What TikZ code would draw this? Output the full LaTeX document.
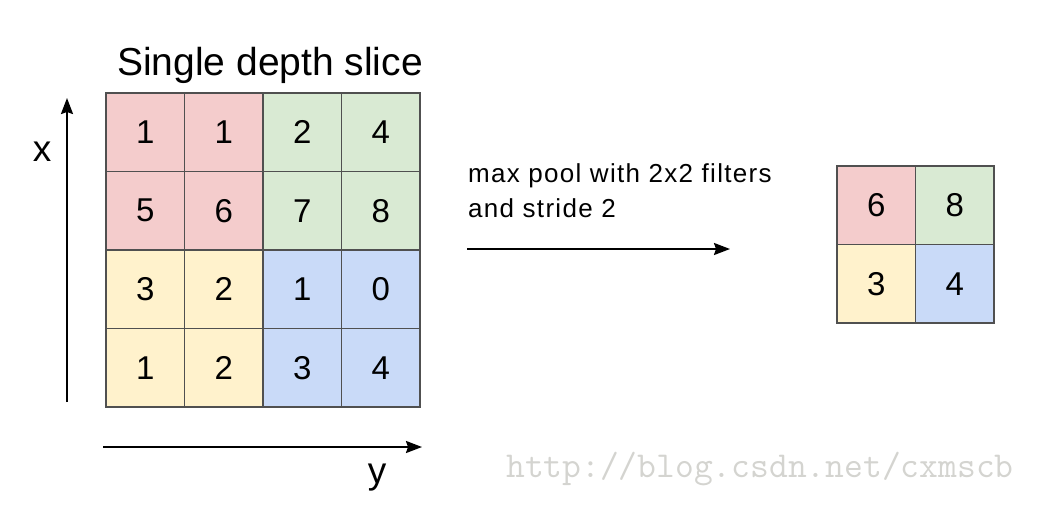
\documentclass[tikz,border=0pt]{standalone}
\usepackage{fontspec}
\setmainfont{Liberation Sans}
\usetikzlibrary{arrows.meta, positioning}
\definecolor{poolRed}{RGB}{244,204,204}
\definecolor{poolGreen}{RGB}{217,234,211}
\definecolor{poolYellow}{RGB}{255,242,204}
\definecolor{poolBlue}{RGB}{201,218,248}
\definecolor{gridGray}{RGB}{80,80,80}
\definecolor{markGray}{RGB}{212,212,208}

\begin{document}
\begin{tikzpicture}[
    x=1pt, y=-1pt,
    cell/.style={rectangle, draw=gridGray, line width=1.6pt, minimum width=78.5pt, minimum height=78.5pt, inner sep=0pt, outer sep=0pt, font=\fontsize{33}{39}\selectfont},
    axislabel/.style={font=\fontsize{37}{44}\selectfont, anchor=base, inner sep=0pt},
    arrow/.style={-{Stealth[length=16pt, width=12pt, inset=2pt]}, line width=2pt}
]
\useasboundingbox (0,0) rectangle (1054,509);

% input slice
\node[cell, fill=poolRed] (c11) at (145.25,132.25) {1};
\node[cell, fill=poolRed, right=0pt of c11] (c12) {1};
\node[cell, fill=poolGreen, right=0pt of c12] (c13) {2};
\node[cell, fill=poolGreen, right=0pt of c13] (c14) {4};
\node[cell, fill=poolRed, below=0pt of c11] (c21) {5};
\node[cell, fill=poolRed, right=0pt of c21] (c22) {6};
\node[cell, fill=poolGreen, right=0pt of c22] (c23) {7};
\node[cell, fill=poolGreen, right=0pt of c23] (c24) {8};
\node[cell, fill=poolYellow, below=0pt of c21] (c31) {3};
\node[cell, fill=poolYellow, right=0pt of c31] (c32) {2};
\node[cell, fill=poolBlue, right=0pt of c32] (c33) {1};
\node[cell, fill=poolBlue, right=0pt of c33] (c34) {0};
\node[cell, fill=poolYellow, below=0pt of c31] (c41) {1};
\node[cell, fill=poolYellow, right=0pt of c41] (c42) {2};
\node[cell, fill=poolBlue, right=0pt of c42] (c43) {3};
\node[cell, fill=poolBlue, right=0pt of c43] (c44) {4};

\node[font=\fontsize{39}{47}\selectfont, anchor=base, inner sep=0pt] (title) at (270,75) {Single depth slice};

% axes
\coordinate (xfrom) at (67,402);
\coordinate (xto) at (67,98);
\coordinate (yfrom) at (103,447);
\coordinate (yto) at (422,447);
\draw[arrow] (xfrom) -- (xto);
\draw[arrow] (yfrom) -- (yto);
\node[axislabel] (xlabel) at (42,161) {x};
\node[axislabel] (ylabel) at (377,483) {y};

% pooling step
\node[font=\fontsize{26}{35}\selectfont\addfontfeatures{LetterSpace=5}, align=left, anchor=north west, inner sep=0pt] (pooltext) at (468,163) {max pool with 2x2 filters\\and stride 2};
\coordinate (poolfrom) at (467,249);
\coordinate (poolto) at (730,249);
\draw[arrow] (poolfrom) -- (poolto);

% output
\node[cell, fill=poolRed] (p11) at (876.25,205.25) {6};
\node[cell, fill=poolGreen, right=0pt of p11] (p12) {8};
\node[cell, fill=poolYellow, below=0pt of p11] (p21) {3};
\node[cell, fill=poolBlue, right=0pt of p21] (p22) {4};

\node[font=\ttfamily\fontsize{36.5}{42}\selectfont, text=markGray, anchor=base west, inner sep=0pt] (mark) at (506,477) {http://blog.csdn.net/cxmscb};

\end{tikzpicture}
\end{document}
